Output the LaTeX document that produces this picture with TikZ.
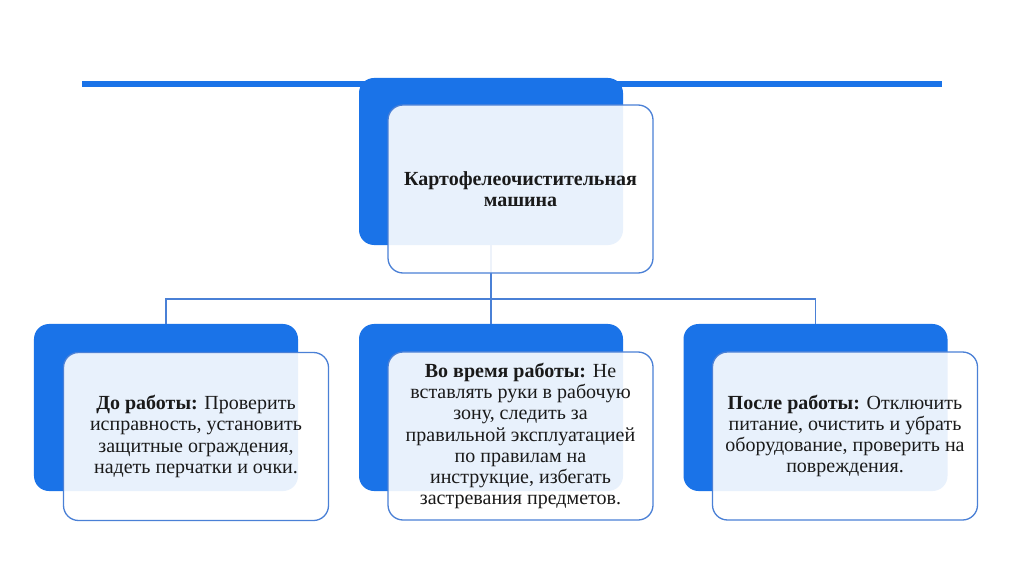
\documentclass[tikz,border=0pt]{standalone}
\usepackage{fontspec}
\setmainfont{Liberation Serif}
\definecolor{mblue}{HTML}{1A73E8}
\definecolor{lblue}{HTML}{4A80D6}
\definecolor{ink}{HTML}{1A1A1A}
\begin{document}
\begin{tikzpicture}[x=1bp,y=-1bp,
  backbox/.style={rectangle, rounded corners=15bp, fill=mblue, draw=none,
    minimum width=264bp, minimum height=167bp, inner sep=0pt},
  frontbox/.style={rectangle, rounded corners=15bp, fill=white, fill opacity=0.9,
    draw=lblue, line width=1.3bp, text opacity=1, draw opacity=1,
    minimum width=265bp, minimum height=168bp, inner sep=0pt,
    align=center, text=ink, font=\fontsize{20bp}{21.2bp}\selectfont},
  conn/.style={draw=lblue, line width=1.3bp}
]
\useasboundingbox[fill=white] (0,0) rectangle (1024,574);
\coordinate (tl) at (82,84);
\coordinate (tr) at (942,84);
\draw[mblue, line width=6bp] (tl) -- (tr);
\coordinate (bus) at (491,299);
% back boxes
\node[backbox] (tb) at (491,161.5) {};
\node[backbox] (lb) at (166,407.5) {};
\node[backbox] (mb) at (491,407.5) {};
\node[backbox] (rb) at (815.5,407.5) {};
% connectors
\draw[conn] (tb.south) -- (bus);
\draw[conn] (bus) -| (lb.north);
\draw[conn] (bus) -- (mb.north);
\draw[conn] (bus) -| (rb.north);
% front boxes
\node[frontbox] (tf) at (520.5,189) {\textbf{Картофелеочистительная}\\\textbf{машина}};
\node[frontbox] (lf) at (196,436.5) {\textbf{До работы:} Проверить\\исправность, установить\\защитные ограждения,\\надеть перчатки и очки.};
\node[frontbox] (mf) at (520.5,436) {\textbf{Во время работы:} Не\\вставлять руки в рабочую\\зону, следить за\\правильной эксплуатацией\\по правилам на\\инструкцие, избегать\\застревания предметов.};
\node[frontbox] (rf) at (845,436) {\textbf{После работы:} Отключить\\питание, очистить и убрать\\оборудование, проверить на\\повреждения.};
\end{tikzpicture}
\end{document}
